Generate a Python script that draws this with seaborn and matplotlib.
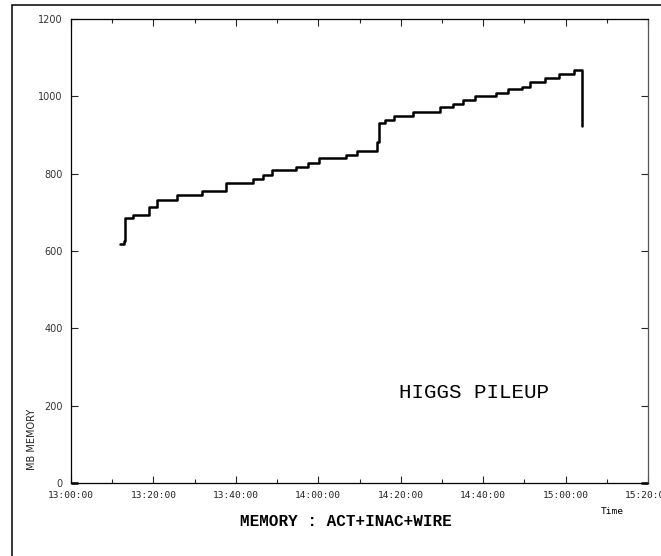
import matplotlib
matplotlib.use("Agg")
import matplotlib.pyplot as plt
import matplotlib.dates as mdates
import pandas as pd
import seaborn as sns
from matplotlib.patches import Rectangle

# sample times (HH:MM:SS) and memory in MB
times = [
    "13:11:53", "13:12:56", "13:13:12", "13:15:07", "13:18:56", "13:20:48",
    "13:25:39", "13:31:43", "13:37:32", "13:44:05", "13:46:40", "13:48:51",
    "13:54:32", "13:57:26", "14:00:15", "14:06:44", "14:09:28", "14:14:11",
    "14:14:49", "14:16:12", "14:18:23", "14:22:55", "14:29:32", "14:32:46",
    "14:35:12", "14:38:02", "14:43:08", "14:46:07", "14:49:22", "14:51:23",
    "14:55:01", "14:58:29", "15:02:04", "15:03:56",
]
memory_mb = [
    617, 626, 685, 693, 713, 732,
    745, 756, 775, 785, 796, 809,
    818, 828, 840, 848, 859, 881,
    930, 939, 950, 960, 972, 980,
    990, 1001, 1009, 1019, 1025, 1036,
    1047, 1058, 1068, 924,
]
y_ticks = [0, 200, 400, 600, 800, 1000, 1200]
x_start, x_end = "13:00:00", "15:20:00"

DAY = "2000-01-01 "
df = pd.DataFrame({
    "time": pd.to_datetime([DAY + t for t in times]),
    "mem": memory_mb,
})

sns.set_style("ticks")
plt.rcParams["font.family"] = ["DejaVu Sans"]
plt.rcParams["text.color"] = "black"

W, H = 661, 556
fig = plt.figure(figsize=(W / 100, H / 100), dpi=100)
fig.patch.set_facecolor("white")
ax = fig.add_axes([71 / W, 1 - 483 / H, (648 - 71) / W, (483 - 19) / H])

sns.lineplot(data=df, x="time", y="mem", ax=ax, color="black", lw=1.8,
             drawstyle="steps-post", estimator=None, sort=False)

ax.set_xlim(pd.Timestamp(DAY + x_start), pd.Timestamp(DAY + x_end))
ax.set_ylim(0, 1200)
ax.set_yticks(y_ticks)
ax.xaxis.set_major_locator(mdates.MinuteLocator(byminute=[0, 20, 40]))
ax.xaxis.set_minor_locator(mdates.MinuteLocator(byminute=[10, 30, 50]))
ax.xaxis.set_major_formatter(mdates.DateFormatter("%H:%M:%S"))

for side in ["left", "right", "top", "bottom"]:
    ax.spines[side].set_visible(True)
    ax.spines[side].set_linewidth(0.9)
    ax.spines[side].set_color("black")
ax.spines["right"].set_color("#555555")

ax.tick_params(axis="x", which="major", direction="in", length=5, width=0.8,
               top=True, bottom=True, pad=6)
ax.tick_params(axis="x", which="minor", direction="in", length=3, width=0.8,
               top=True, bottom=True)
ax.tick_params(axis="y", which="major", direction="in", length=5, width=0.8,
               left=True, right=True, pad=6, labelsize=7, labelcolor="#333333")
for lab in ax.get_xticklabels():
    lab.set_family("DejaVu Sans Mono")
    lab.set_fontsize(6.8)
    lab.set_color("#222222")
# the last time label runs off the right edge, as in the reference
ax.get_xticklabels()[-1].set_clip_on(False)

# grey marker on the zero tick
for t in ax.yaxis.get_major_ticks()[:1]:
    t.tick1line.set_color("#888888")
    t.tick1line.set_markeredgewidth(2)
    t.tick2line.set_color("#888888")
    t.tick2line.set_markeredgewidth(2)

ax.set_xlabel("")
ax.set_ylabel("")

ax.text(0.568, 0.194, "HIGGS PILEUP", transform=ax.transAxes, color="black",
        family="Liberation Mono", fontsize=15, ha="left", va="center")

fig.text(346 / W, 1 - 521 / H, "MEMORY : ACT+INAC+WIRE", family="Liberation Mono",
         fontweight="bold", fontsize=11.5, ha="center", va="center", color="black")
fig.text(612 / W, 1 - 512 / H, "Time", family="DejaVu Sans Mono",
         fontsize=6.8, ha="center", va="center", color="black")
fig.text(32 / W, 1 - 439 / H, "MB MEMORY", rotation=90, fontsize=7,
         ha="center", va="center", color="#222222")

# outer frame (only left and top edges fall inside the image)
fig.patches.append(Rectangle((12 / W, -1), 5, 1 + (1 - 4.5 / H), transform=fig.transFigure,
                             fill=False, edgecolor="black", lw=1.1, clip_on=False))

fig.savefig("out.png", dpi=100, facecolor="white")
